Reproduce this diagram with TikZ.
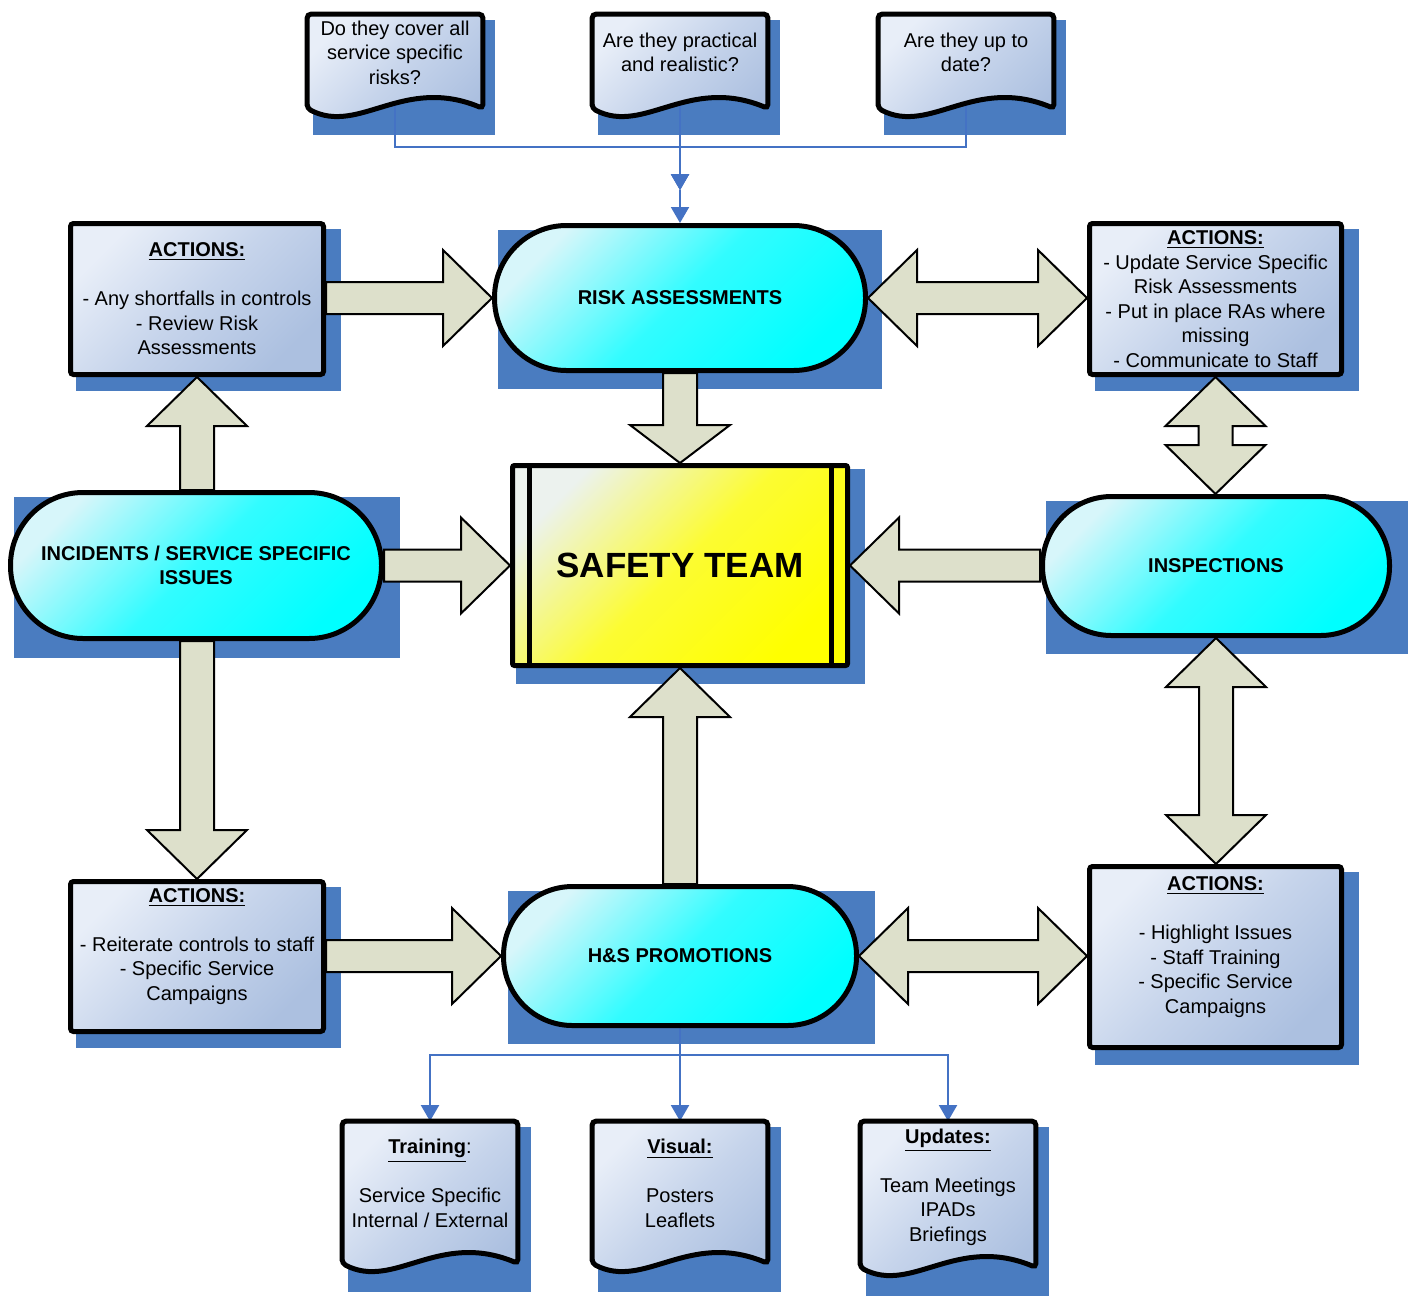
\documentclass[tikz,border=0pt]{standalone}
\usepackage{fontspec}
\setmainfont{Liberation Sans}
\usetikzlibrary{calc,arrows.meta}
\pgfdeclarelayer{bg}\pgfdeclarelayer{mid}\pgfdeclarelayer{docl}
\pgfsetlayers{bg,mid,docl,main}
\definecolor{shadowc}{RGB}{74,124,192}
\definecolor{connc}{RGB}{68,114,196}
\definecolor{boxlight}{RGB}{232,238,248}
\definecolor{boxmid}{RGB}{198,212,235}
\definecolor{boxdark}{RGB}{172,192,224}
\definecolor{caplight}{RGB}{215,246,250}
\definecolor{capmid}{RGB}{50,252,255}
\definecolor{capdark}{RGB}{0,255,255}
\definecolor{stlight}{RGB}{236,242,238}
\definecolor{stmid}{RGB}{252,252,50}
\definecolor{stdark}{RGB}{255,255,0}
\definecolor{arrfill}{RGB}{221,224,203}
\tikzset{
 txt/.style={font=\fontsize{10pt}{12.25pt}\selectfont, align=center, inner sep=0pt},
 actbox/.style={txt, draw, line width=2.5pt, rounded corners=1.5pt,
   top color=boxlight, bottom color=boxdark, middle color=boxmid, shading angle=45},
 capsule/.style={txt, font=\fontsize{10pt}{12.25pt}\selectfont\bfseries, draw, line width=2.5pt,
   top color=caplight, bottom color=capdark, middle color=capmid, shading angle=45},
 safetybox/.style={txt, font=\fontsize{17.5pt}{21pt}\selectfont\bfseries, draw, line width=2.5pt, rounded corners=1pt,
   top color=stlight, bottom color=stdark, middle color=stmid, shading angle=45},
 docnode/.style={txt, minimum width=87.5pt},
 docline/.style={draw, line width=2.5pt, rounded corners=2pt,
   top color=boxlight, bottom color=boxdark, middle color=boxmid, shading angle=45},
 barrow/.style={fill=arrfill, draw=black, line width=1pt, line join=miter},
 conn/.style={draw=connc, line width=1pt},
 conntip/.style={conn, -{Triangle[width=9pt,length=8pt]}}
}
\newcommand\shadowrect[5]{\fill[shadowc] ([shift={(#2,-#3)}]#1.north west) rectangle ([shift={(#4,-#5)}]#1.south east);}
\newcommand\docpath[2]{%
 \draw[docline] ([yshift=-#2]#1.south west) -- (#1.north west) -- (#1.north east) -- ([yshift=-#2]#1.south east)
  .. controls ([xshift=48pt,yshift=-#2+16.5pt]#1.south west) and ([xshift=26pt,yshift=-#2-13.5pt]#1.south west) .. ([yshift=-#2]#1.south west) -- cycle;}
\newcommand\Harrow[3][24.5pt]{%
 \draw[barrow] let \p1=#2, \p2=#3, \p3=($#3!#1!#2$) in
 (\x1,\y2+8pt) -- (\x3,\y2+8pt) -- (\x3,\y2+24pt) -- (\x2,\y2) -- (\x3,\y2-24pt) -- (\x3,\y2-8pt) -- (\x1,\y2-8pt) -- cycle;}
\newcommand\HHarrow[3][24.5pt]{%
 \draw[barrow] let \p1=#2, \p2=#3, \p3=($#2!#1!#3$), \p4=($#3!#1!#2$) in
 (\x1,\y1) -- (\x3,\y1+24pt) -- (\x3,\y1+8pt) -- (\x4,\y1+8pt) -- (\x4,\y1+24pt) -- (\x2,\y1)
 -- (\x4,\y1-24pt) -- (\x4,\y1-8pt) -- (\x3,\y1-8pt) -- (\x3,\y1-24pt) -- cycle;}
\newcommand\Varrow[3][24.5pt]{%
 \draw[barrow] let \p1=#2, \p2=#3, \p3=($#3!#1!#2$) in
 (\x2+8.5pt,\y1) -- (\x2+8.5pt,\y3) -- (\x2+25pt,\y3) -- (\x2,\y2) -- (\x2-25pt,\y3) -- (\x2-8.5pt,\y3) -- (\x2-8.5pt,\y1) -- cycle;}
\newcommand\VVarrow[3][24.5pt]{%
 \draw[barrow] let \p1=#2, \p2=#3, \p3=($#2!#1!#3$), \p4=($#3!#1!#2$) in
 (\x1,\y1) -- (\x1+25pt,\y3) -- (\x1+8.5pt,\y3) -- (\x1+8.5pt,\y4) -- (\x1+25pt,\y4) -- (\x1,\y2)
 -- (\x1-25pt,\y4) -- (\x1-8.5pt,\y4) -- (\x1-8.5pt,\y3) -- (\x1-25pt,\y3) -- cycle;}
\begin{document}
\begin{tikzpicture}[x=0.5pt,y=-0.5pt]
\useasboundingbox (0,0) rectangle (1411,1296);
\begin{pgfonlayer}{bg}
\fill[white] (0,0) rectangle (1411,1296);
\end{pgfonlayer}

% ---- nodes ----
\node[docnode, minimum height=38pt] (D1) at (395,52.5) {Do they cover all\\service specific\\risks?};
\node[docnode, minimum height=38pt] (D2) at (680,52.5) {Are they practical\\and realistic?};
\node[docnode, minimum height=38pt] (D3) at (966,52.5) {Are they up to\\date?};

\node[actbox, minimum width=126.5pt, minimum height=75.5pt] (A1) at (197,299)
 {\underline{\textbf{ACTIONS:}}\\[12.25pt]- Any shortfalls in controls\\- Review Risk\\Assessments};
\node[actbox, minimum width=126pt, minimum height=75.5pt] (A2) at (1215.5,299)
 {\underline{\textbf{ACTIONS:}}\\- Update Service Specific\\Risk Assessments\\- Put in place RAs where\\missing\\- Communicate to Staff};
\node[actbox, minimum width=126.5pt, minimum height=75pt] (A3) at (197,956.5)
 {\underline{\textbf{ACTIONS:}}\\[12.25pt]- Reiterate controls to staff\\- Specific Service\\Campaigns\\\mbox{}};
\node[actbox, minimum width=126pt, minimum height=90.5pt] (A4) at (1215.5,957)
 {\underline{\textbf{ACTIONS:}}\\[12.25pt]- Highlight Issues\\- Staff Training\\- Specific Service\\Campaigns\\\mbox{}};

\node[capsule, minimum width=185.5pt, minimum height=72.5pt, rounded corners=36pt] (RA) at (680,298) {RISK ASSESSMENTS};
\node[capsule, minimum width=185.5pt, minimum height=73pt, rounded corners=36.3pt] (INC) at (196,565.5) {INCIDENTS / SERVICE SPECIFIC\\ISSUES};
\node[capsule, minimum width=173.5pt, minimum height=69.5pt, rounded corners=34.5pt] (INSP) at (1216,566) {INSPECTIONS};
\node[capsule, minimum width=176.5pt, minimum height=69.5pt, rounded corners=34.5pt] (HS) at (680,956) {H\&S PROMOTIONS};

\node[safetybox, minimum width=167.5pt, minimum height=100pt] (ST) at (680,565.5) {SAFETY TEAM};
\draw[line width=2.5pt] ([xshift=9.5pt]ST.north west) -- ([xshift=9.5pt]ST.south west);
\draw[line width=2.5pt] ([xshift=-9.5pt]ST.north east) -- ([xshift=-9.5pt]ST.south east);

\node[docnode, minimum height=62pt] (B1) at (430,1183.5) {\underline{\textbf{Training}}:\\[12.25pt]Service Specific\\Internal / External};
\node[docnode, minimum height=62pt] (B2) at (680,1183.5) {\underline{\textbf{Visual:}}\\[12.25pt]Posters\\Leaflets};
\node[docnode, minimum height=65.5pt] (B3) at (948,1187) {\underline{\textbf{Updates:}}\\[12.25pt]Team Meetings\\IPADs\\Briefings};

% ---- document outlines ----
\begin{pgfonlayer}{docl}
\docpath{D1}{8.75pt}
\docpath{D2}{8.75pt}
\docpath{D3}{8.75pt}
\docpath{B1}{8.75pt}
\docpath{B2}{8.75pt}
\docpath{B3}{7.25pt}
\end{pgfonlayer}

% ---- shadows ----
\begin{pgfonlayer}{bg}
\shadowrect{D1}{2.75pt}{2.75pt}{6.25pt}{22.25pt}
\shadowrect{D2}{2.75pt}{2.75pt}{6.25pt}{22.25pt}
\shadowrect{D3}{2.75pt}{2.75pt}{6.25pt}{22.25pt}
\shadowrect{B1}{3pt}{3pt}{6.5pt}{23pt}
\shadowrect{B2}{3pt}{3pt}{6.5pt}{23pt}
\shadowrect{B3}{3pt}{3pt}{6.5pt}{21.5pt}
\shadowrect{A1}{3.75pt}{3.75pt}{7.25pt}{6.75pt}
\shadowrect{A2}{3.75pt}{3.75pt}{7.25pt}{6.75pt}
\shadowrect{A3}{3.75pt}{3.75pt}{7.25pt}{6.75pt}
\shadowrect{A4}{3.75pt}{3.75pt}{7.25pt}{7.25pt}
\shadowrect{RA}{3pt}{3.5pt}{7pt}{8pt}
\shadowrect{INC}{3pt}{3.5pt}{7.75pt}{8.5pt}
\shadowrect{INSP}{3pt}{3.5pt}{7.75pt}{7.75pt}
\shadowrect{HS}{3.5pt}{3.5pt}{8pt}{7.75pt}
\shadowrect{ST}{2.75pt}{3pt}{7.25pt}{7.75pt}
\end{pgfonlayer}

% ---- connectors ----
\begin{pgfonlayer}{mid}
\coordinate (T) at (680,147);
\coordinate (J) at (680,190);
\draw[conntip] (D1.south) |- (T) -- (J);
\draw[conntip] (D3.south) |- (T) -- (J);
\draw[conntip] (D2.south) -- (J);
\draw[conntip] (J) -- (RA.north);

\coordinate (Bj) at (680,1055);
\draw[conntip] (HS.south) -- (Bj) -| (B1.north);
\draw[conntip] (HS.south) -- (Bj) -| (B3.north);
\draw[conntip] (HS.south) -- (B2.north);

\Harrow{(A1.east)}{(RA.west)}
\HHarrow{(RA.east)}{(A2.west)}
\Varrow[19pt]{(RA.south)}{(ST.north)}
\Varrow{(INC.north)}{(A1.south)}
\VVarrow{(A2.south)}{(INSP.north)}
\Harrow{(INC.east)}{(ST.west)}
\Harrow{(INSP.west)}{(ST.east)}
\Varrow{(INC.south)}{(A3.north)}
\VVarrow{(INSP.south)}{(A4.north)}
\Varrow{(HS.north)}{(ST.south)}
\Harrow{(A3.east)}{(HS.west)}
\HHarrow{(HS.east)}{(A4.west)}
\end{pgfonlayer}
\end{tikzpicture}
\end{document}
